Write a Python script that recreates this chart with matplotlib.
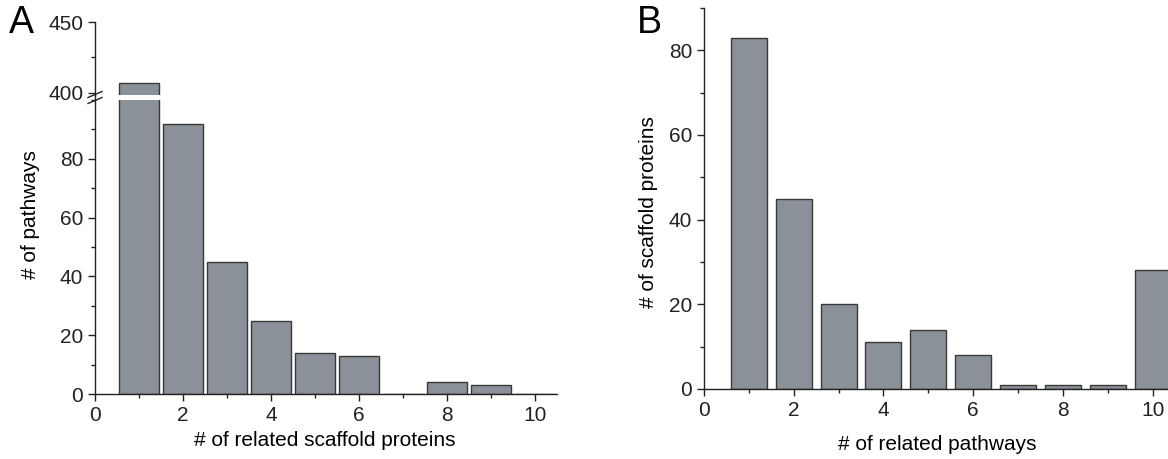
import matplotlib.pyplot as plt
from matplotlib.ticker import MultipleLocator

plt.rcParams['font.family'] = ['Liberation Sans', 'DejaVu Sans']

# panel A: pathways by number of related scaffold proteins
a_x = [1, 2, 3, 4, 5, 6, 7, 8, 9, 10]
a_counts = [407, 92, 45, 25, 14, 13, 0, 4, 3, 0]

# panel B: scaffold proteins by number of related pathways
b_x = [1, 2, 3, 4, 5, 6, 7, 8, 9, 10]
b_counts = [83, 45, 20, 11, 14, 8, 1, 1, 1, 28]

bar_color = '#8a9198'
edge_color = '#3a3a3a'
fs = 15

fig = plt.figure(figsize=(11.68, 4.59), dpi=100)

W, H = 1168, 459
def box(l, t, r, b):
    return [l / W, 1 - b / H, (r - l) / W, (b - t) / H]

ax_lo = fig.add_axes(box(95, 100, 557, 394))
ax_hi = fig.add_axes(box(95, 22, 557, 95))
ax_b = fig.add_axes(box(704, 8, 1175, 389))

for ax in (ax_lo, ax_hi):
    ax.bar(a_x, a_counts, width=0.9, color=bar_color, edgecolor=edge_color, linewidth=1)
    ax.set_xlim(0, 10.5)
    for s in ('top', 'right'):
        ax.spines[s].set_visible(False)

ax_lo.set_ylim(0, 100)
ax_lo.set_yticks([0, 20, 40, 60, 80])
ax_lo.yaxis.set_minor_locator(MultipleLocator(10))
ax_lo.xaxis.set_major_locator(MultipleLocator(2))
ax_lo.xaxis.set_minor_locator(MultipleLocator(1))

ax_hi.set_ylim(398.5, 450)
ax_hi.set_yticks([400, 450])
ax_hi.yaxis.set_minor_locator(MultipleLocator(25))
ax_hi.spines['bottom'].set_visible(False)
ax_hi.set_xticks([])

ax_b.bar(b_x, b_counts, width=0.8, color=bar_color, edgecolor=edge_color, linewidth=1)
ax_b.set_xlim(0, 10.5)
ax_b.set_ylim(0, 90)
ax_b.yaxis.set_major_locator(MultipleLocator(20))
ax_b.yaxis.set_minor_locator(MultipleLocator(10))
ax_b.xaxis.set_major_locator(MultipleLocator(2))
ax_b.xaxis.set_minor_locator(MultipleLocator(1))
for s in ('top', 'right'):
    ax_b.spines[s].set_visible(False)

for ax in (ax_lo, ax_hi, ax_b):
    ax.tick_params(which='major', direction='out', length=5, width=1, labelsize=fs, colors='#222222')
    ax.tick_params(which='minor', direction='out', length=3, width=1, colors='#222222')
    for s in ax.spines.values():
        s.set_linewidth(1)
        s.set_color('#222222')

# connect the broken spine and draw the break marks
fig.add_artist(plt.Line2D([95 / W, 95 / W], [1 - 100 / H, 1 - 95 / H], color='#222222', lw=1))
for dy in (-3, 3):
    yc = 97.5 + dy
    fig.add_artist(plt.Line2D([88 / W, 102 / W], [1 - (yc + 3) / H, 1 - (yc - 3) / H],
                              color='#222222', lw=1))

fig.text(9 / W, 1 - 23 / H, 'A', fontsize=27, va='center', ha='left')
fig.text(637 / W, 1 - 23 / H, 'B', fontsize=27, va='center', ha='left')

fig.text(30 / W, 1 - 215 / H, '# of pathways', rotation=90, fontsize=fs, va='center', ha='center')
fig.text(325 / W, 1 - 440 / H, '# of related scaffold proteins', fontsize=fs, va='center', ha='center')
fig.text(648 / W, 1 - 212 / H, '# of scaffold proteins', rotation=90, fontsize=fs, va='center', ha='center')
fig.text(937 / W, 1 - 444 / H, '# of related pathways', fontsize=fs, va='center', ha='center')

fig.savefig('out.png', dpi=100)
